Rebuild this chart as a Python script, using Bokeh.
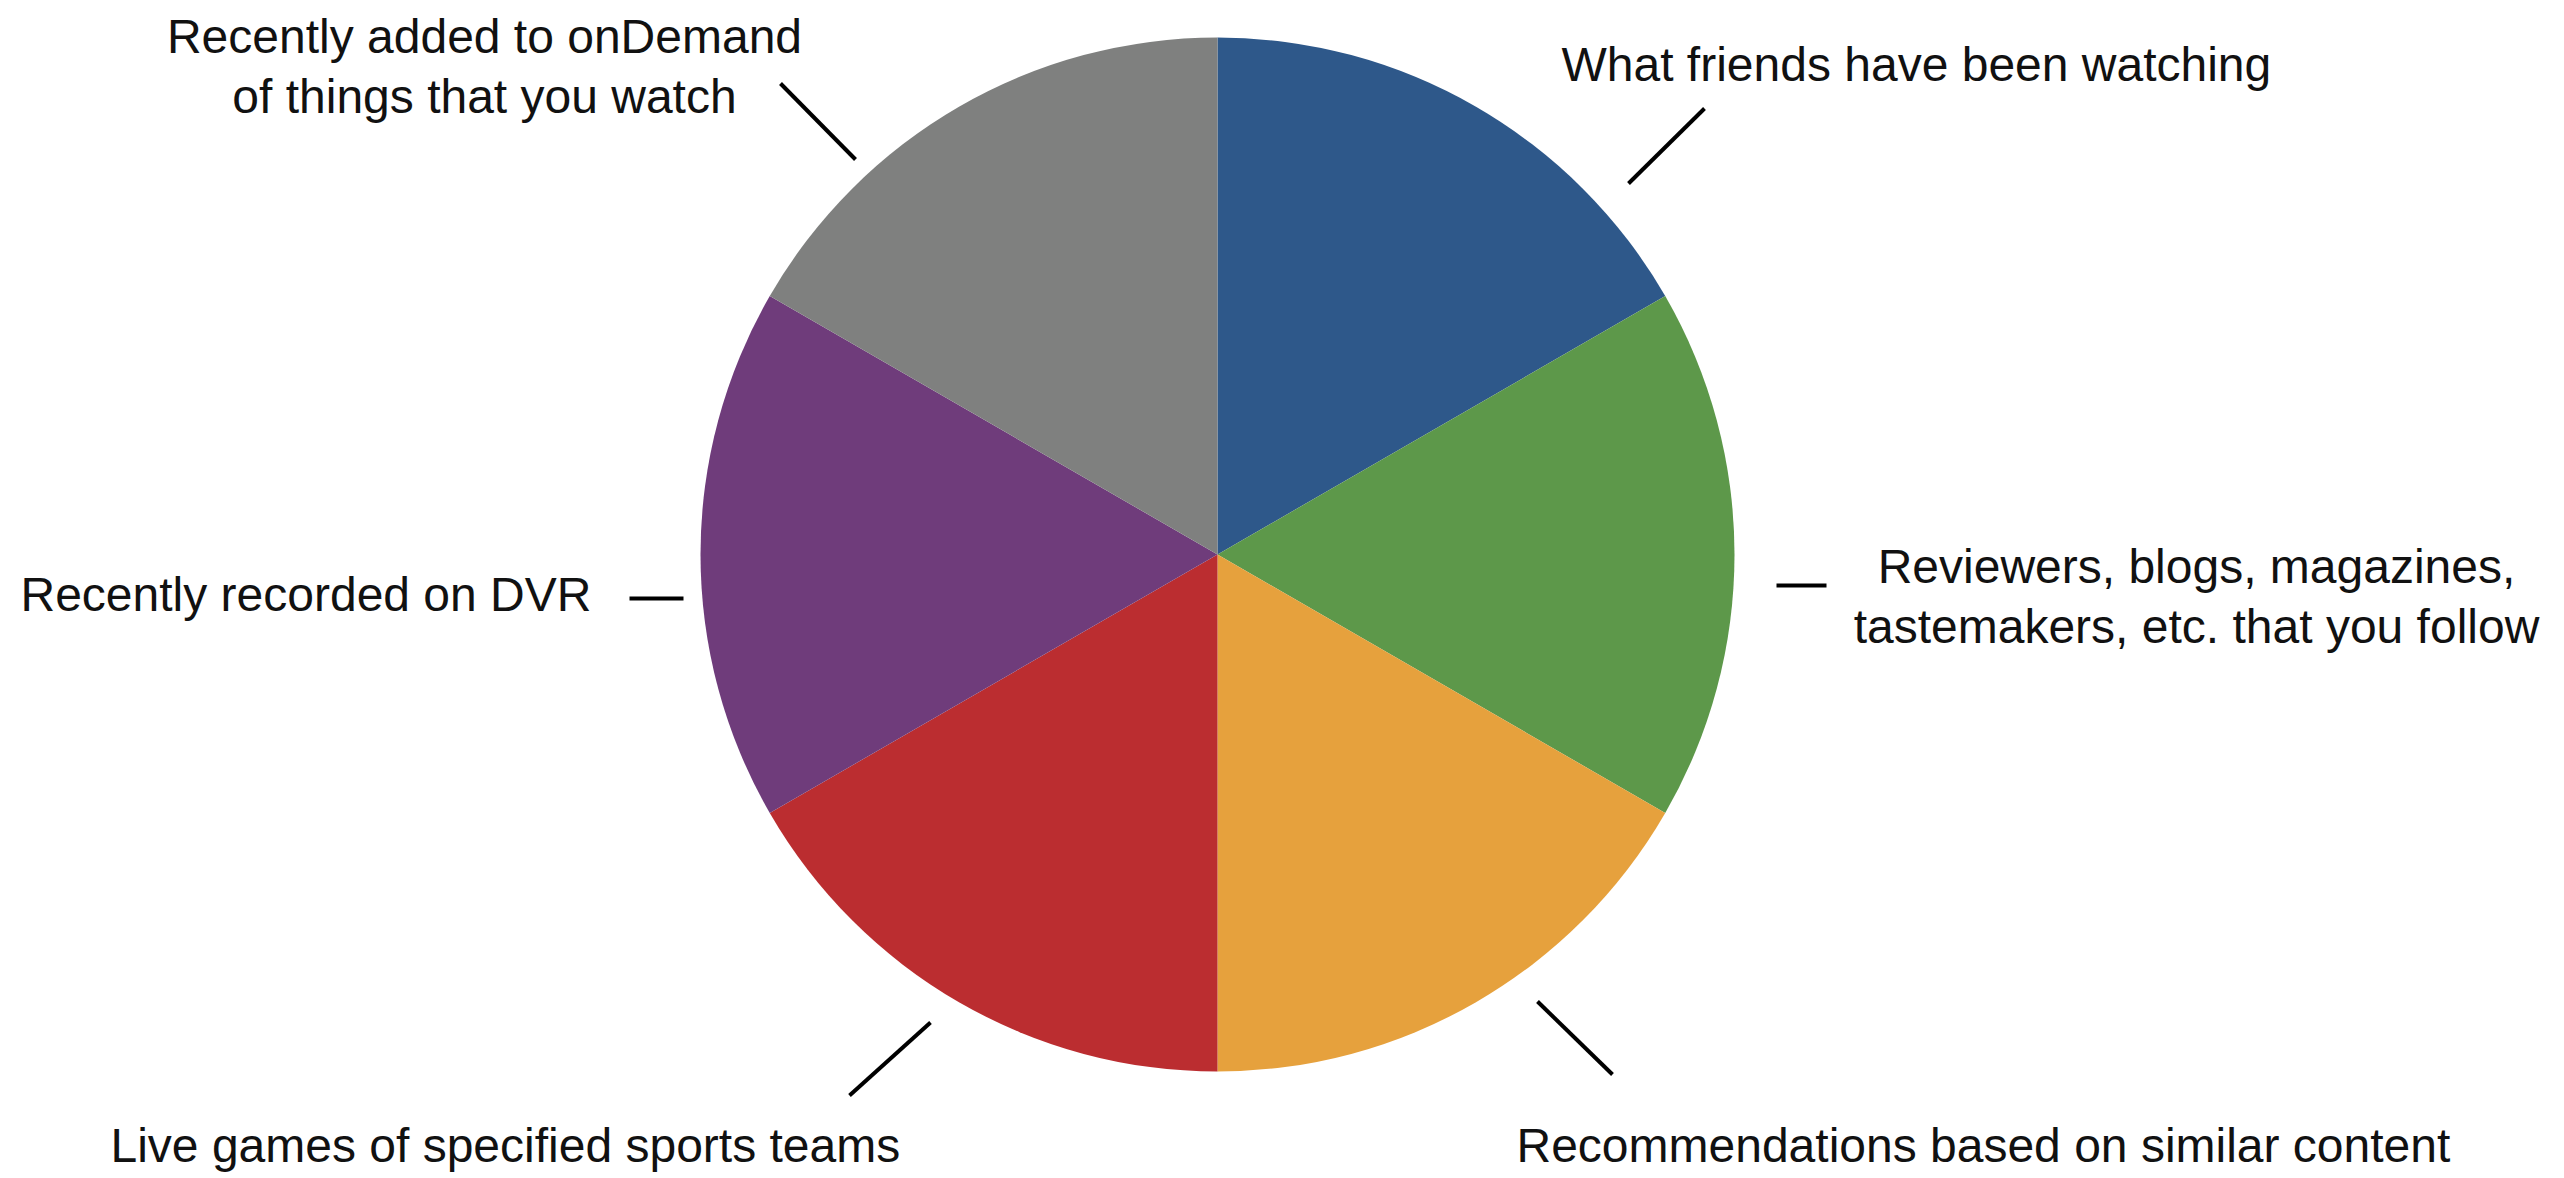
import math
from bokeh.plotting import figure
from bokeh.models import Range1d, ColumnDataSource
from bokeh.core.properties import value
from bokeh.embed import file_html
from bokeh.resources import INLINE

# ---- data ----
categories = [
    "What friends have been watching",
    "Reviewers, blogs, magazines, tastemakers, etc. that you follow",
    "Recommendations based on similar content",
    "Live games of specified sports teams",
    "Recently recorded on DVR",
    "Recently added to onDemand of things that you watch",
]
shares = [1, 1, 1, 1, 1, 1]
colors = ["#2E588A", "#5D984A", "#E6A13D", "#BB2D30", "#6F3C7B", "#7F807F"]

# label text lines per category
label_lines = [
    ["What friends have been watching"],
    ["Reviewers, blogs, magazines,", "tastemakers, etc. that you follow"],
    ["Recommendations based on similar content"],
    ["Live games of specified sports teams"],
    ["Recently recorded on DVR"],
    ["Recently added to onDemand", "of things that you watch"],
]

# ---- layout (screen pixels, y measured from top) ----
W, H = 2564, 1178
CX, CY, R = 1217, 554, 517
FONT = "Liberation Sans"
FS = "48px"
LINE_GAP = 60

# anchor (x, first baseline y from top, align) for each label
label_anchor = [
    (1561, 64, "left"),
    (2196, 566, "center"),
    (1516, 1145, "left"),
    (110, 1145, "left"),
    (20, 594, "left"),
    (484, 36, "center"),
]
# leader ticks: (x0, y0, x1, y1) from top
ticks = [
    (1628, 183, 1704, 108),
    (1776, 585, 1826, 585),
    (1537, 1001, 1612, 1074),
    (849, 1095, 930, 1022),
    (629, 598, 683, 598),
    (780, 83, 855, 159),
]

def fy(y):
    return H - y

p = figure(width=W, height=H, output_backend="svg", toolbar_location=None,
           x_range=Range1d(0, W), y_range=Range1d(0, H), min_border=0)
p.axis.visible = False
p.grid.visible = False
p.outline_line_color = None
p.background_fill_color = "white"
p.border_fill_color = "white"

total = float(sum(shares))
starts, ends = [], []
acc = 0.0
for s in shares:
    a0 = math.pi / 2 - 2 * math.pi * acc / total
    acc += s
    a1 = math.pi / 2 - 2 * math.pi * acc / total
    starts.append(a0)
    ends.append(a1)

src = ColumnDataSource(dict(x=[CX] * len(shares), y=[fy(CY)] * len(shares),
                            start=starts, end=ends, color=colors, name=categories))
p.wedge(x="x", y="y", radius=R, start_angle="start", end_angle="end",
        direction="clock", fill_color="color", line_color=None, source=src)

# leader ticks
p.segment(x0=[t[0] for t in ticks], y0=[fy(t[1]) for t in ticks],
          x1=[t[2] for t in ticks], y1=[fy(t[3]) for t in ticks],
          line_color="black", line_width=4)

# labels
for (ax, ay, al), lines in zip(label_anchor, label_lines):
    xs = [ax] * len(lines)
    ys = [fy(ay + i * LINE_GAP) for i in range(len(lines))]
    p.text(x=xs, y=ys, text=lines, text_font=value(FONT), text_font_size=FS,
           text_align=al, text_baseline="alphabetic", text_color="#111111")

open("out.html", "w").write(file_html(p, INLINE))
